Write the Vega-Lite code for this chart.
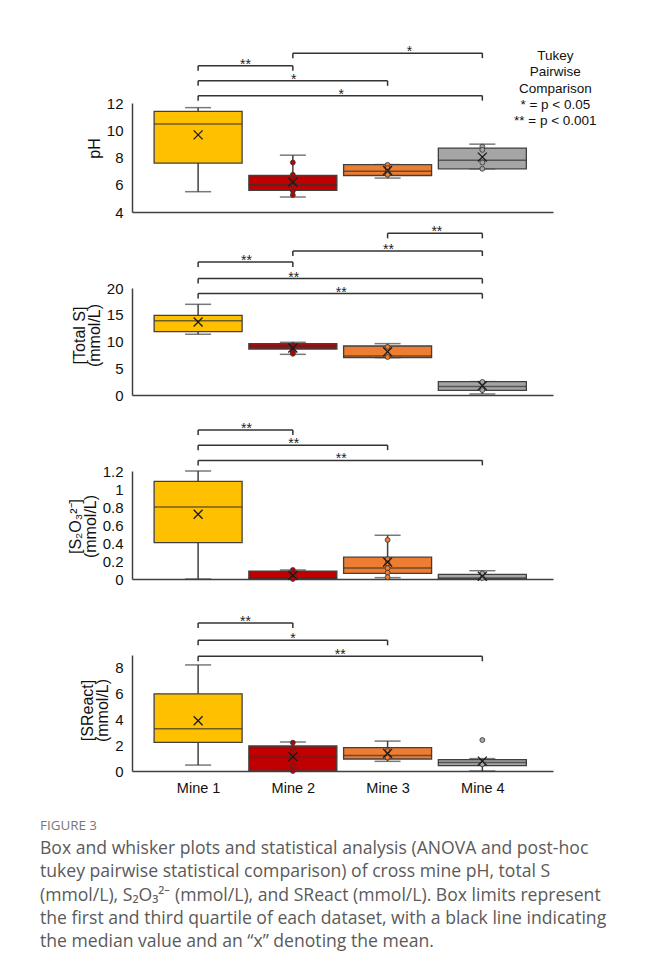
{
  "$schema": "https://vega.github.io/schema/vega-lite/v6.json",
  "padding": {"top": 45, "left": 40, "right": 5, "bottom": 5},
  "background": "white",
  "config": {
    "view": {"stroke": null},
    "font": "Liberation Sans",
    "axis": {"labelFont": "Liberation Sans", "titleFont": "Liberation Sans", "labelColor": "#111", "titleColor": "#111", "grid": false, "labelOverlap": false, "labelFlush": false, "ticks": false, "domainColor": "#404040", "domainWidth": 1.5, "titleFontSize": 16, "titleFontWeight": "normal", "titleLineHeight": 15, "titlePadding": 4},
    "axisY": {"labelPadding": 9, "labelFontSize": 15},
    "axisX": {"labelPadding": 10, "labelFontSize": 14.5}
  },
  "datasets": {
    "boxes": [
      {"panel": 1, "pos": 1, "min": 5.49, "q1": 7.59, "median": 10.46, "q3": 11.39, "max": 11.66, "mean": 9.66},
      {"panel": 1, "pos": 2, "min": 5.1, "q1": 5.58, "median": 6.0, "q3": 6.68, "max": 8.17, "mean": 6.2},
      {"panel": 1, "pos": 3, "min": 6.49, "q1": 6.68, "median": 7.0, "q3": 7.48, "max": 7.48, "mean": 7.05},
      {"panel": 1, "pos": 4, "min": 7.17, "q1": 7.17, "median": 7.8, "q3": 8.69, "max": 8.98, "mean": 8.03},
      {"panel": 2, "pos": 1, "min": 11.35, "q1": 11.85, "median": 13.9, "q3": 14.9, "max": 16.95, "mean": 13.64},
      {"panel": 2, "pos": 2, "min": 7.6, "q1": 8.6, "median": 9.16, "q3": 9.6, "max": 9.85, "mean": 8.79},
      {"panel": 2, "pos": 3, "min": 6.99, "q1": 6.99, "median": 7.29, "q3": 9.16, "max": 9.6, "mean": 8.1},
      {"panel": 2, "pos": 4, "min": 0.19, "q1": 0.88, "median": 1.6, "q3": 2.5, "max": 2.5, "mean": 1.75},
      {"panel": 3, "pos": 1, "min": 0, "q1": 0.405, "median": 0.8, "q3": 1.085, "max": 1.2, "mean": 0.72},
      {"panel": 3, "pos": 2, "min": 0, "q1": 0, "median": 0.01, "q3": 0.088, "max": 0.1, "mean": 0.04},
      {"panel": 3, "pos": 3, "min": 0.015, "q1": 0.063, "median": 0.121, "q3": 0.243, "max": 0.486, "mean": 0.188},
      {"panel": 3, "pos": 4, "min": 0, "q1": 0, "median": 0.01, "q3": 0.052, "max": 0.092, "mean": 0.03},
      {"panel": 4, "pos": 1, "min": 0.46, "q1": 2.22, "median": 3.28, "q3": 5.99, "max": 8.23, "mean": 3.9},
      {"panel": 4, "pos": 2, "min": 0, "q1": 0, "median": 1.06, "q3": 1.94, "max": 2.25, "mean": 1.11},
      {"panel": 4, "pos": 3, "min": 0.75, "q1": 0.93, "median": 1.21, "q3": 1.81, "max": 2.32, "mean": 1.37},
      {"panel": 4, "pos": 4, "min": 0, "q1": 0.42, "median": 0.65, "q3": 0.88, "max": 0.96, "mean": 0.77}
    ],
    "points": [
      {"panel": 1, "pos": 2, "value": 7.63}, {"panel": 1, "pos": 2, "value": 6.73}, {"panel": 1, "pos": 2, "value": 6.25}, {"panel": 1, "pos": 2, "value": 5.54}, {"panel": 1, "pos": 2, "value": 5.24},
      {"panel": 1, "pos": 3, "value": 7.46}, {"panel": 1, "pos": 3, "value": 7.22}, {"panel": 1, "pos": 3, "value": 6.97}, {"panel": 1, "pos": 3, "value": 6.73},
      {"panel": 1, "pos": 4, "value": 8.8}, {"panel": 1, "pos": 4, "value": 8.56}, {"panel": 1, "pos": 4, "value": 7.63}, {"panel": 1, "pos": 4, "value": 7.17},
      {"panel": 2, "pos": 2, "value": 9.3}, {"panel": 2, "pos": 2, "value": 8.9}, {"panel": 2, "pos": 2, "value": 8.0}, {"panel": 2, "pos": 2, "value": 7.7},
      {"panel": 2, "pos": 3, "value": 9.0}, {"panel": 2, "pos": 3, "value": 7.1},
      {"panel": 2, "pos": 4, "value": 2.45}, {"panel": 2, "pos": 4, "value": 1.2}, {"panel": 2, "pos": 4, "value": 0.9},
      {"panel": 3, "pos": 2, "value": 0.1}, {"panel": 3, "pos": 2, "value": 0.06}, {"panel": 3, "pos": 2, "value": 0.02}, {"panel": 3, "pos": 2, "value": 0.0},
      {"panel": 3, "pos": 3, "value": 0.434}, {"panel": 3, "pos": 3, "value": 0.22}, {"panel": 3, "pos": 3, "value": 0.173}, {"panel": 3, "pos": 3, "value": 0.12}, {"panel": 3, "pos": 3, "value": 0.07}, {"panel": 3, "pos": 3, "value": 0.02},
      {"panel": 3, "pos": 4, "value": 0.063}, {"panel": 3, "pos": 4, "value": 0.01},
      {"panel": 4, "pos": 2, "value": 2.2}, {"panel": 4, "pos": 2, "value": 1.76}, {"panel": 4, "pos": 2, "value": 1.16}, {"panel": 4, "pos": 2, "value": 0.42}, {"panel": 4, "pos": 2, "value": 0.0},
      {"panel": 4, "pos": 3, "value": 1.55}, {"panel": 4, "pos": 3, "value": 1.04},
      {"panel": 4, "pos": 4, "value": 2.4}, {"panel": 4, "pos": 4, "value": 0.52}
    ],
    "brackets": [
      {"panel": 1, "from": 1, "to": 2, "level": 14.73, "xm": 1.5, "label": "**"},
      {"panel": 1, "from": 1, "to": 3, "level": 13.63, "xm": 2.01, "label": "*"},
      {"panel": 1, "from": 1, "to": 4, "level": 12.54, "xm": 2.51, "label": "*"},
      {"panel": 1, "from": 2, "to": 4, "level": 15.66, "xm": 3.23, "label": "*"},
      {"panel": 2, "from": 3, "to": 4, "level": 30.22, "xm": 3.52, "label": "**"},
      {"panel": 2, "from": 2, "to": 4, "level": 26.92, "xm": 3.01, "label": "**"},
      {"panel": 2, "from": 1, "to": 2, "level": 24.86, "xm": 1.51, "label": "**"},
      {"panel": 2, "from": 1, "to": 4, "level": 21.76, "xm": 2.01, "label": "**"},
      {"panel": 2, "from": 1, "to": 4, "level": 18.95, "xm": 2.51, "label": "**"},
      {"panel": 3, "from": 1, "to": 2, "level": 1.656, "xm": 1.51, "label": "**"},
      {"panel": 3, "from": 1, "to": 3, "level": 1.487, "xm": 2.01, "label": "**"},
      {"panel": 3, "from": 1, "to": 4, "level": 1.318, "xm": 2.51, "label": "**"},
      {"panel": 4, "from": 1, "to": 2, "level": 11.49, "xm": 1.5, "label": "**"},
      {"panel": 4, "from": 1, "to": 3, "level": 10.14, "xm": 2.0, "label": "*"},
      {"panel": 4, "from": 1, "to": 4, "level": 8.9, "xm": 2.5, "label": "**"}
    ],
    "legendnote": [
      {"pos": 4.77, "min": 15.95, "note": "Tukey Pairwise Comparison"}
    ],
    "caption": [
      {"line": 0, "text": "FIGURE 3"},
      {"line": 1, "text": "Box and whisker plots and statistical analysis (ANOVA and post-hoc"},
      {"line": 2, "text": "tukey pairwise statistical comparison) of cross mine pH, total S"},
      {"line": 3, "text": "(mmol/L), S₂O₃²⁻ (mmol/L), and SReact (mmol/L). Box limits represent"},
      {"line": 4, "text": "the first and third quartile of each dataset, with a black line indicating"},
      {"line": 5, "text": "the median value and an “x” denoting the mean."}
    ]
  },
  "vconcat": [
    {
      "width": 421, "height": 109,
      "encoding": {
        "x": {"field": "pos", "type": "quantitative", "scale": {"domain": [0.355, 4.693], "nice": false, "zero": false}, "axis": {"labels": false, "title": null}},
        "y": {"field": "min", "type": "quantitative", "scale": {"domain": [4, 12], "nice": false, "zero": false}, "axis": {"values": [4, 6, 8, 10, 12], "title": "pH", "titleY": 45}}
      },
      "layer": [
        {"data": {"name": "boxes"}, "transform": [{"filter": "datum.panel == 1"}],
         "mark": {"type": "rule", "color": "#404040", "strokeWidth": 1.5},
         "encoding": {"y2": {"field": "max"}}},
        {"data": {"name": "boxes"}, "transform": [{"filter": "datum.panel == 1"}, {"fold": ["min", "max"], "as": ["k", "v"]}],
         "mark": {"type": "tick", "orient": "horizontal", "size": 26, "thickness": 1.5, "color": "#404040"},
         "encoding": {"y": {"field": "v", "type": "quantitative", "scale": {"domain": [4, 12], "nice": false, "zero": false}, "axis": {"values": [4, 6, 8, 10, 12], "title": "pH", "titleY": 45}}}},
        {"data": {"name": "boxes"}, "transform": [{"filter": "datum.panel == 1"}],
         "mark": {"type": "bar", "width": 88, "stroke": "#404040", "strokeWidth": 1.3},
         "encoding": {
           "y": {"field": "q1", "type": "quantitative", "scale": {"domain": [4, 12], "nice": false, "zero": false}, "axis": {"values": [4, 6, 8, 10, 12], "title": "pH", "titleY": 45}},
           "y2": {"field": "q3"},
           "fill": {"field": "pos", "type": "ordinal", "scale": {"domain": [1, 2, 3, 4], "range": ["#FFC000", "#C00000", "#ED7D31", "#A5A5A5"]}, "legend": null}}},
        {"data": {"name": "boxes"}, "transform": [{"filter": "datum.panel == 1"}],
         "mark": {"type": "tick", "orient": "horizontal", "size": 88, "thickness": 1.5, "color": "#333"},
         "encoding": {"y": {"field": "median", "type": "quantitative", "scale": {"domain": [4, 12], "nice": false, "zero": false}, "axis": {"values": [4, 6, 8, 10, 12], "title": "pH", "titleY": 45}}}},
        {"data": {"name": "points"}, "transform": [{"filter": "datum.panel == 1"}],
         "mark": {"type": "circle", "size": 24, "stroke": "#333", "strokeWidth": 0.8, "opacity": 1},
         "encoding": {
           "y": {"field": "value", "type": "quantitative", "scale": {"domain": [4, 12], "nice": false, "zero": false}, "axis": {"values": [4, 6, 8, 10, 12], "title": "pH", "titleY": 45}},
           "fill": {"field": "pos", "type": "ordinal", "scale": {"domain": [1, 2, 3, 4], "range": ["#FFC000", "#C00000", "#ED7D31", "#A5A5A5"]}, "legend": null}}},
        {"data": {"name": "boxes"}, "transform": [{"filter": "datum.panel == 1"}],
         "mark": {"type": "point", "shape": "M-1,-1L1,1M1,-1L-1,1", "size": 80, "filled": false, "stroke": "#1a1a1a", "strokeWidth": 1.3, "opacity": 1},
         "encoding": {"y": {"field": "mean", "type": "quantitative", "scale": {"domain": [4, 12], "nice": false, "zero": false}, "axis": {"values": [4, 6, 8, 10, 12], "title": "pH", "titleY": 45}}}},
        {"data": {"name": "brackets"}, "transform": [{"filter": "datum.panel == 1"}],
         "mark": {"type": "rule", "color": "#333", "strokeWidth": 1.5},
         "encoding": {
           "x": {"field": "from", "type": "quantitative", "scale": {"domain": [0.355, 4.693], "nice": false, "zero": false}, "axis": {"labels": false, "title": null}},
           "x2": {"field": "to"},
           "y": {"field": "level", "type": "quantitative", "scale": {"domain": [4, 12], "nice": false, "zero": false}, "axis": {"values": [4, 6, 8, 10, 12], "title": "pH", "titleY": 45}}}},
        {"data": {"name": "brackets"}, "transform": [{"filter": "datum.panel == 1"}, {"fold": ["from", "to"], "as": ["end", "xe"]}],
         "mark": {"type": "rule", "color": "#333", "strokeWidth": 1.5, "y2Offset": 5},
         "encoding": {
           "x": {"field": "xe", "type": "quantitative", "scale": {"domain": [0.355, 4.693], "nice": false, "zero": false}, "axis": {"labels": false, "title": null}},
           "y": {"field": "level", "type": "quantitative", "scale": {"domain": [4, 12], "nice": false, "zero": false}, "axis": {"values": [4, 6, 8, 10, 12], "title": "pH", "titleY": 45}},
           "y2": {"field": "level"}}},
        {"data": {"name": "brackets"}, "transform": [{"filter": "datum.panel == 1"}],
         "mark": {"type": "text", "fontSize": 14, "baseline": "alphabetic", "dy": 3, "color": "#222"},
         "encoding": {
           "x": {"field": "xm", "type": "quantitative", "scale": {"domain": [0.355, 4.693], "nice": false, "zero": false}, "axis": {"labels": false, "title": null}},
           "y": {"field": "level", "type": "quantitative", "scale": {"domain": [4, 12], "nice": false, "zero": false}, "axis": {"values": [4, 6, 8, 10, 12], "title": "pH", "titleY": 45}},
           "text": {"field": "label"}}},
        {"data": {"name": "legendnote"},
         "mark": {"type": "text", "text": ["Tukey", "Pairwise", "Comparison", "* = p < 0.05", "** = p < 0.001"], "fontSize": 13.5, "lineHeight": 16.3, "align": "center", "baseline": "top", "color": "#111"}}
      ]
    },
    {
      "width": 421, "height": 107,
      "encoding": {
        "x": {"field": "pos", "type": "quantitative", "scale": {"domain": [0.355, 4.693], "nice": false, "zero": false}, "axis": {"labels": false, "title": null}},
        "y": {"field": "min", "type": "quantitative", "scale": {"domain": [0, 20], "nice": false, "zero": false}, "axis": {"values": [0, 5, 10, 15, 20], "title": ["[Total S]", "(mmol/L)"], "titleY": 47}}
      },
      "layer": [
        {"data": {"name": "boxes"}, "transform": [{"filter": "datum.panel == 2"}],
         "mark": {"type": "rule", "color": "#404040", "strokeWidth": 1.5},
         "encoding": {"y2": {"field": "max"}}},
        {"data": {"name": "boxes"}, "transform": [{"filter": "datum.panel == 2"}, {"fold": ["min", "max"], "as": ["k", "v"]}],
         "mark": {"type": "tick", "orient": "horizontal", "size": 26, "thickness": 1.5, "color": "#404040"},
         "encoding": {"y": {"field": "v", "type": "quantitative", "scale": {"domain": [0, 20], "nice": false, "zero": false}, "axis": {"values": [0, 5, 10, 15, 20], "title": ["[Total S]", "(mmol/L)"], "titleY": 47}}}},
        {"data": {"name": "boxes"}, "transform": [{"filter": "datum.panel == 2"}],
         "mark": {"type": "bar", "width": 88, "stroke": "#404040", "strokeWidth": 1.3},
         "encoding": {
           "y": {"field": "q1", "type": "quantitative", "scale": {"domain": [0, 20], "nice": false, "zero": false}, "axis": {"values": [0, 5, 10, 15, 20], "title": ["[Total S]", "(mmol/L)"], "titleY": 47}},
           "y2": {"field": "q3"},
           "fill": {"field": "pos", "type": "ordinal", "scale": {"domain": [1, 2, 3, 4], "range": ["#FFC000", "#C00000", "#ED7D31", "#A5A5A5"]}, "legend": null}}},
        {"data": {"name": "boxes"}, "transform": [{"filter": "datum.panel == 2"}],
         "mark": {"type": "tick", "orient": "horizontal", "size": 88, "thickness": 1.5, "color": "#333"},
         "encoding": {"y": {"field": "median", "type": "quantitative", "scale": {"domain": [0, 20], "nice": false, "zero": false}, "axis": {"values": [0, 5, 10, 15, 20], "title": ["[Total S]", "(mmol/L)"], "titleY": 47}}}},
        {"data": {"name": "points"}, "transform": [{"filter": "datum.panel == 2"}],
         "mark": {"type": "circle", "size": 24, "stroke": "#333", "strokeWidth": 0.8, "opacity": 1},
         "encoding": {
           "y": {"field": "value", "type": "quantitative", "scale": {"domain": [0, 20], "nice": false, "zero": false}, "axis": {"values": [0, 5, 10, 15, 20], "title": ["[Total S]", "(mmol/L)"], "titleY": 47}},
           "fill": {"field": "pos", "type": "ordinal", "scale": {"domain": [1, 2, 3, 4], "range": ["#FFC000", "#C00000", "#ED7D31", "#A5A5A5"]}, "legend": null}}},
        {"data": {"name": "boxes"}, "transform": [{"filter": "datum.panel == 2"}],
         "mark": {"type": "point", "shape": "M-1,-1L1,1M1,-1L-1,1", "size": 80, "filled": false, "stroke": "#1a1a1a", "strokeWidth": 1.3, "opacity": 1},
         "encoding": {"y": {"field": "mean", "type": "quantitative", "scale": {"domain": [0, 20], "nice": false, "zero": false}, "axis": {"values": [0, 5, 10, 15, 20], "title": ["[Total S]", "(mmol/L)"], "titleY": 47}}}},
        {"data": {"name": "brackets"}, "transform": [{"filter": "datum.panel == 2"}],
         "mark": {"type": "rule", "color": "#333", "strokeWidth": 1.5},
         "encoding": {
           "x": {"field": "from", "type": "quantitative", "scale": {"domain": [0.355, 4.693], "nice": false, "zero": false}, "axis": {"labels": false, "title": null}},
           "x2": {"field": "to"},
           "y": {"field": "level", "type": "quantitative", "scale": {"domain": [0, 20], "nice": false, "zero": false}, "axis": {"values": [0, 5, 10, 15, 20], "title": ["[Total S]", "(mmol/L)"], "titleY": 47}}}},
        {"data": {"name": "brackets"}, "transform": [{"filter": "datum.panel == 2"}, {"fold": ["from", "to"], "as": ["end", "xe"]}],
         "mark": {"type": "rule", "color": "#333", "strokeWidth": 1.5, "y2Offset": 5},
         "encoding": {
           "x": {"field": "xe", "type": "quantitative", "scale": {"domain": [0.355, 4.693], "nice": false, "zero": false}, "axis": {"labels": false, "title": null}},
           "y": {"field": "level", "type": "quantitative", "scale": {"domain": [0, 20], "nice": false, "zero": false}, "axis": {"values": [0, 5, 10, 15, 20], "title": ["[Total S]", "(mmol/L)"], "titleY": 47}},
           "y2": {"field": "level"}}},
        {"data": {"name": "brackets"}, "transform": [{"filter": "datum.panel == 2"}],
         "mark": {"type": "text", "fontSize": 14, "baseline": "alphabetic", "dy": 3, "color": "#222"},
         "encoding": {
           "x": {"field": "xm", "type": "quantitative", "scale": {"domain": [0.355, 4.693], "nice": false, "zero": false}, "axis": {"labels": false, "title": null}},
           "y": {"field": "level", "type": "quantitative", "scale": {"domain": [0, 20], "nice": false, "zero": false}, "axis": {"values": [0, 5, 10, 15, 20], "title": ["[Total S]", "(mmol/L)"], "titleY": 47}},
           "text": {"field": "label"}}}
      ]
    },
    {
      "width": 421, "height": 108,
      "encoding": {
        "x": {"field": "pos", "type": "quantitative", "scale": {"domain": [0.355, 4.693], "nice": false, "zero": false}, "axis": {"labels": false, "title": null}},
        "y": {"field": "min", "type": "quantitative", "scale": {"domain": [0, 1.2], "nice": false, "zero": false}, "axis": {"values": [0, 0.2, 0.4, 0.6, 0.8, 1, 1.2], "format": "~g", "title": ["[S₂O₃²⁻]", "(mmol/L)"], "titleY": 55}}
      },
      "layer": [
        {"data": {"name": "boxes"}, "transform": [{"filter": "datum.panel == 3"}],
         "mark": {"type": "rule", "color": "#404040", "strokeWidth": 1.5},
         "encoding": {"y2": {"field": "max"}}},
        {"data": {"name": "boxes"}, "transform": [{"filter": "datum.panel == 3"}, {"fold": ["min", "max"], "as": ["k", "v"]}],
         "mark": {"type": "tick", "orient": "horizontal", "size": 26, "thickness": 1.5, "color": "#404040"},
         "encoding": {"y": {"field": "v", "type": "quantitative", "scale": {"domain": [0, 1.2], "nice": false, "zero": false}, "axis": {"values": [0, 0.2, 0.4, 0.6, 0.8, 1, 1.2], "format": "~g", "title": ["[S₂O₃²⁻]", "(mmol/L)"], "titleY": 55}}}},
        {"data": {"name": "boxes"}, "transform": [{"filter": "datum.panel == 3"}],
         "mark": {"type": "bar", "width": 88, "stroke": "#404040", "strokeWidth": 1.3},
         "encoding": {
           "y": {"field": "q1", "type": "quantitative", "scale": {"domain": [0, 1.2], "nice": false, "zero": false}, "axis": {"values": [0, 0.2, 0.4, 0.6, 0.8, 1, 1.2], "format": "~g", "title": ["[S₂O₃²⁻]", "(mmol/L)"], "titleY": 55}},
           "y2": {"field": "q3"},
           "fill": {"field": "pos", "type": "ordinal", "scale": {"domain": [1, 2, 3, 4], "range": ["#FFC000", "#C00000", "#ED7D31", "#A5A5A5"]}, "legend": null}}},
        {"data": {"name": "boxes"}, "transform": [{"filter": "datum.panel == 3"}],
         "mark": {"type": "tick", "orient": "horizontal", "size": 88, "thickness": 1.5, "color": "#333"},
         "encoding": {"y": {"field": "median", "type": "quantitative", "scale": {"domain": [0, 1.2], "nice": false, "zero": false}, "axis": {"values": [0, 0.2, 0.4, 0.6, 0.8, 1, 1.2], "format": "~g", "title": ["[S₂O₃²⁻]", "(mmol/L)"], "titleY": 55}}}},
        {"data": {"name": "points"}, "transform": [{"filter": "datum.panel == 3"}],
         "mark": {"type": "circle", "size": 24, "stroke": "#333", "strokeWidth": 0.8, "opacity": 1},
         "encoding": {
           "y": {"field": "value", "type": "quantitative", "scale": {"domain": [0, 1.2], "nice": false, "zero": false}, "axis": {"values": [0, 0.2, 0.4, 0.6, 0.8, 1, 1.2], "format": "~g", "title": ["[S₂O₃²⁻]", "(mmol/L)"], "titleY": 55}},
           "fill": {"field": "pos", "type": "ordinal", "scale": {"domain": [1, 2, 3, 4], "range": ["#FFC000", "#C00000", "#ED7D31", "#A5A5A5"]}, "legend": null}}},
        {"data": {"name": "boxes"}, "transform": [{"filter": "datum.panel == 3"}],
         "mark": {"type": "point", "shape": "M-1,-1L1,1M1,-1L-1,1", "size": 80, "filled": false, "stroke": "#1a1a1a", "strokeWidth": 1.3, "opacity": 1},
         "encoding": {"y": {"field": "mean", "type": "quantitative", "scale": {"domain": [0, 1.2], "nice": false, "zero": false}, "axis": {"values": [0, 0.2, 0.4, 0.6, 0.8, 1, 1.2], "format": "~g", "title": ["[S₂O₃²⁻]", "(mmol/L)"], "titleY": 55}}}},
        {"data": {"name": "brackets"}, "transform": [{"filter": "datum.panel == 3"}],
         "mark": {"type": "rule", "color": "#333", "strokeWidth": 1.5},
         "encoding": {
           "x": {"field": "from", "type": "quantitative", "scale": {"domain": [0.355, 4.693], "nice": false, "zero": false}, "axis": {"labels": false, "title": null}},
           "x2": {"field": "to"},
           "y": {"field": "level", "type": "quantitative", "scale": {"domain": [0, 1.2], "nice": false, "zero": false}, "axis": {"values": [0, 0.2, 0.4, 0.6, 0.8, 1, 1.2], "format": "~g", "title": ["[S₂O₃²⁻]", "(mmol/L)"], "titleY": 55}}}},
        {"data": {"name": "brackets"}, "transform": [{"filter": "datum.panel == 3"}, {"fold": ["from", "to"], "as": ["end", "xe"]}],
         "mark": {"type": "rule", "color": "#333", "strokeWidth": 1.5, "y2Offset": 5},
         "encoding": {
           "x": {"field": "xe", "type": "quantitative", "scale": {"domain": [0.355, 4.693], "nice": false, "zero": false}, "axis": {"labels": false, "title": null}},
           "y": {"field": "level", "type": "quantitative", "scale": {"domain": [0, 1.2], "nice": false, "zero": false}, "axis": {"values": [0, 0.2, 0.4, 0.6, 0.8, 1, 1.2], "format": "~g", "title": ["[S₂O₃²⁻]", "(mmol/L)"], "titleY": 55}},
           "y2": {"field": "level"}}},
        {"data": {"name": "brackets"}, "transform": [{"filter": "datum.panel == 3"}],
         "mark": {"type": "text", "fontSize": 14, "baseline": "alphabetic", "dy": 3, "color": "#222"},
         "encoding": {
           "x": {"field": "xm", "type": "quantitative", "scale": {"domain": [0.355, 4.693], "nice": false, "zero": false}, "axis": {"labels": false, "title": null}},
           "y": {"field": "level", "type": "quantitative", "scale": {"domain": [0, 1.2], "nice": false, "zero": false}, "axis": {"values": [0, 0.2, 0.4, 0.6, 0.8, 1, 1.2], "format": "~g", "title": ["[S₂O₃²⁻]", "(mmol/L)"], "titleY": 55}},
           "text": {"field": "label"}}}
      ]
    },
    {
      "width": 421, "height": 116,
      "encoding": {
        "x": {"field": "pos", "type": "quantitative", "scale": {"domain": [0.355, 4.693], "nice": false, "zero": false}, "axis": {"values": [1, 2, 3, 4], "labelExpr": "'Mine ' + datum.value", "title": null}},
        "y": {"field": "min", "type": "quantitative", "scale": {"domain": [0, 9], "nice": false, "zero": false}, "axis": {"values": [0, 2, 4, 6, 8], "title": ["[SReact]", "(mmol/L)"], "titleY": 55}}
      },
      "layer": [
        {"data": {"name": "boxes"}, "transform": [{"filter": "datum.panel == 4"}],
         "mark": {"type": "rule", "color": "#404040", "strokeWidth": 1.5},
         "encoding": {"y2": {"field": "max"}}},
        {"data": {"name": "boxes"}, "transform": [{"filter": "datum.panel == 4"}, {"fold": ["min", "max"], "as": ["k", "v"]}],
         "mark": {"type": "tick", "orient": "horizontal", "size": 26, "thickness": 1.5, "color": "#404040"},
         "encoding": {"y": {"field": "v", "type": "quantitative", "scale": {"domain": [0, 9], "nice": false, "zero": false}, "axis": {"values": [0, 2, 4, 6, 8], "title": ["[SReact]", "(mmol/L)"], "titleY": 55}}}},
        {"data": {"name": "boxes"}, "transform": [{"filter": "datum.panel == 4"}],
         "mark": {"type": "bar", "width": 88, "stroke": "#404040", "strokeWidth": 1.3},
         "encoding": {
           "y": {"field": "q1", "type": "quantitative", "scale": {"domain": [0, 9], "nice": false, "zero": false}, "axis": {"values": [0, 2, 4, 6, 8], "title": ["[SReact]", "(mmol/L)"], "titleY": 55}},
           "y2": {"field": "q3"},
           "fill": {"field": "pos", "type": "ordinal", "scale": {"domain": [1, 2, 3, 4], "range": ["#FFC000", "#C00000", "#ED7D31", "#A5A5A5"]}, "legend": null}}},
        {"data": {"name": "boxes"}, "transform": [{"filter": "datum.panel == 4"}],
         "mark": {"type": "tick", "orient": "horizontal", "size": 88, "thickness": 1.5, "color": "#333"},
         "encoding": {"y": {"field": "median", "type": "quantitative", "scale": {"domain": [0, 9], "nice": false, "zero": false}, "axis": {"values": [0, 2, 4, 6, 8], "title": ["[SReact]", "(mmol/L)"], "titleY": 55}}}},
        {"data": {"name": "points"}, "transform": [{"filter": "datum.panel == 4"}],
         "mark": {"type": "circle", "size": 24, "stroke": "#333", "strokeWidth": 0.8, "opacity": 1},
         "encoding": {
           "y": {"field": "value", "type": "quantitative", "scale": {"domain": [0, 9], "nice": false, "zero": false}, "axis": {"values": [0, 2, 4, 6, 8], "title": ["[SReact]", "(mmol/L)"], "titleY": 55}},
           "fill": {"field": "pos", "type": "ordinal", "scale": {"domain": [1, 2, 3, 4], "range": ["#FFC000", "#C00000", "#ED7D31", "#A5A5A5"]}, "legend": null}}},
        {"data": {"name": "boxes"}, "transform": [{"filter": "datum.panel == 4"}],
         "mark": {"type": "point", "shape": "M-1,-1L1,1M1,-1L-1,1", "size": 80, "filled": false, "stroke": "#1a1a1a", "strokeWidth": 1.3, "opacity": 1},
         "encoding": {"y": {"field": "mean", "type": "quantitative", "scale": {"domain": [0, 9], "nice": false, "zero": false}, "axis": {"values": [0, 2, 4, 6, 8], "title": ["[SReact]", "(mmol/L)"], "titleY": 55}}}},
        {"data": {"name": "brackets"}, "transform": [{"filter": "datum.panel == 4"}],
         "mark": {"type": "rule", "color": "#333", "strokeWidth": 1.5},
         "encoding": {
           "x": {"field": "from", "type": "quantitative", "scale": {"domain": [0.355, 4.693], "nice": false, "zero": false}, "axis": {"values": [1, 2, 3, 4], "labelExpr": "'Mine ' + datum.value", "title": null}},
           "x2": {"field": "to"},
           "y": {"field": "level", "type": "quantitative", "scale": {"domain": [0, 9], "nice": false, "zero": false}, "axis": {"values": [0, 2, 4, 6, 8], "title": ["[SReact]", "(mmol/L)"], "titleY": 55}}}},
        {"data": {"name": "brackets"}, "transform": [{"filter": "datum.panel == 4"}, {"fold": ["from", "to"], "as": ["end", "xe"]}],
         "mark": {"type": "rule", "color": "#333", "strokeWidth": 1.5, "y2Offset": 5},
         "encoding": {
           "x": {"field": "xe", "type": "quantitative", "scale": {"domain": [0.355, 4.693], "nice": false, "zero": false}, "axis": {"values": [1, 2, 3, 4], "labelExpr": "'Mine ' + datum.value", "title": null}},
           "y": {"field": "level", "type": "quantitative", "scale": {"domain": [0, 9], "nice": false, "zero": false}, "axis": {"values": [0, 2, 4, 6, 8], "title": ["[SReact]", "(mmol/L)"], "titleY": 55}},
           "y2": {"field": "level"}}},
        {"data": {"name": "brackets"}, "transform": [{"filter": "datum.panel == 4"}],
         "mark": {"type": "text", "fontSize": 14, "baseline": "alphabetic", "dy": 3, "color": "#222"},
         "encoding": {
           "x": {"field": "xm", "type": "quantitative", "scale": {"domain": [0.355, 4.693], "nice": false, "zero": false}, "axis": {"values": [1, 2, 3, 4], "labelExpr": "'Mine ' + datum.value", "title": null}},
           "y": {"field": "level", "type": "quantitative", "scale": {"domain": [0, 9], "nice": false, "zero": false}, "axis": {"values": [0, 2, 4, 6, 8], "title": ["[SReact]", "(mmol/L)"], "titleY": 55}},
           "text": {"field": "label"}}}
      ]
    },
    {
      "width": 421, "height": 116,
      "data": {"name": "caption"},
      "layer": [
        {"transform": [{"filter": "datum.line == 0"}],
         "mark": {"type": "text", "align": "left", "baseline": "middle", "font": "Open Sans", "fontSize": 13.4, "color": "#777", "xOffset": -92, "yOffset": -21},
         "encoding": {
           "x": {"datum": 0, "type": "quantitative", "scale": {"domain": [0, 1]}, "axis": null},
           "y": {"field": "line", "type": "quantitative", "scale": {"domain": [0, 5], "reverse": true, "nice": false, "zero": false}, "axis": null},
           "text": {"field": "text"}}},
        {"transform": [{"filter": "datum.line > 0"}],
         "mark": {"type": "text", "align": "left", "baseline": "middle", "font": "Open Sans", "fontSize": 17.6, "color": "#5a5a5a", "xOffset": -92, "yOffset": -21},
         "encoding": {
           "x": {"datum": 0, "type": "quantitative", "scale": {"domain": [0, 1]}, "axis": null},
           "y": {"field": "line", "type": "quantitative", "scale": {"domain": [0, 5], "reverse": true, "nice": false, "zero": false}, "axis": null},
           "text": {"field": "text"}}}
      ]
    }
  ],
  "spacing": 76,
  "bounds": "flush"
}
